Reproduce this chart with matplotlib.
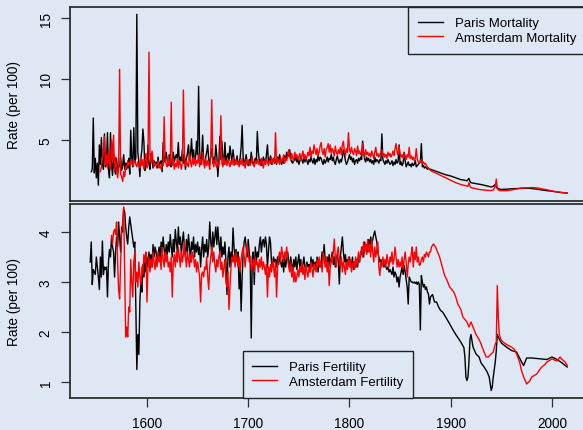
import numpy as np
import matplotlib
matplotlib.use("Agg")
import matplotlib.pyplot as plt

BG = "#dde8f4"
plt.rcParams['font.family'] = ['Liberation Sans', 'DejaVu Sans']

# ---------------- Paris mortality ----------------
paris_mort_start = 1545
paris_mort_annual = [
    2.4, 2.6, 6.8, 2.3, 3.5,
    1.9, 3.1, 1.3, 4.6, 3.0, 5.2, 3.3, 2.6, 5.5, 2.8,
    3.1, 5.6, 2.6, 1.9, 5.6, 3.0, 2.1, 3.8, 2.6, 2.2,
    3.5, 2.4, 3.0, 2.8, 3.6, 2.5, 2.9, 3.8, 2.6, 3.1,
    3.0, 2.7, 3.5, 2.2, 5.8, 3.4, 2.8, 6.0, 3.2, 3.5,
    15.3, 4.0, 3.2, 2.0, 3.5, 4.2, 5.9, 4.8, 2.5, 3.3,
    2.8, 4.6, 3.0, 2.6, 3.9, 3.4, 2.7, 3.3, 3.0, 3.2,
    2.7, 3.6, 2.9, 3.1, 3.3, 2.4, 4.8, 3.2, 3.5, 4.0,
    3.3, 2.9, 3.8, 3.0, 2.8, 3.5, 4.0, 3.2, 3.6, 3.8,
    3.5, 4.8, 3.0, 3.6, 3.3, 4.2, 3.1, 3.8, 2.6, 3.5,
    3.9, 4.6, 3.3, 3.8, 5.1, 3.5, 4.2, 3.2, 3.6, 4.9,
    3.8, 9.4, 4.1, 3.0, 3.6, 5.4, 3.2, 2.9, 3.6, 4.0,
    4.6, 3.4, 3.0, 3.8, 4.3, 3.1, 3.6, 3.3, 4.6, 3.7,
    2.0, 3.2, 5.3, 3.4, 4.9, 3.5, 3.0, 4.8, 3.2, 3.6,
    3.9, 3.3, 4.5, 3.8, 3.1, 4.2, 3.4, 3.0, 3.2, 3.7,
    3.0, 3.1, 3.5, 4.4, 6.2, 3.6, 3.0, 3.3, 3.8, 3.1,
    2.9, 3.4, 3.1, 4.0, 3.3, 3.0, 3.2, 3.5, 3.1, 5.7,
    4.0, 3.2, 3.4, 2.9, 3.1, 3.6, 3.3, 3.0, 3.8, 4.6,
    3.1, 3.3, 3.7, 3.0, 3.2, 3.5, 3.1, 3.4, 3.0, 3.6,
    3.2, 3.8, 3.3, 3.0, 3.4, 3.1, 3.7, 3.3, 4.0, 3.6,
    3.9, 4.2, 3.4, 3.2, 3.1, 3.5, 3.3, 3.8, 3.2, 3.4,
    3.0, 3.3, 3.7, 3.4, 3.1, 3.5, 3.2, 3.6, 3.3, 3.0,
    3.4, 3.2, 3.6, 3.3, 3.1, 3.5, 3.0, 3.4, 3.2, 3.7,
    3.3, 3.6, 3.5, 3.2, 3.0, 3.4, 3.1, 3.3, 3.6, 3.2,
    3.5, 3.4, 3.8, 3.3, 3.6, 3.2, 3.0, 3.4, 3.7, 3.3,
    3.1, 3.4, 3.2, 3.6, 4.2, 3.8, 3.3, 3.0, 3.2, 3.5,
    3.8, 3.4, 3.6, 3.2, 3.5, 3.0, 3.3, 3.4, 3.1, 3.5,
    3.3, 3.6, 3.4, 4.9, 4.0, 3.4, 3.2, 3.6, 3.3, 3.5,
    3.2, 3.4, 3.1, 3.3, 3.0, 3.6, 3.2, 3.4, 3.3, 3.1,
    3.4, 3.3, 5.5, 3.4, 3.2, 3.0, 3.3, 3.1, 3.4, 3.2,
    3.0, 3.1, 3.3, 2.9, 3.2, 3.0, 3.4, 3.1, 3.2, 4.6,
    3.0, 3.2, 2.9, 3.1, 4.0, 3.3, 2.8, 3.0, 3.2, 2.9,
    3.0, 2.8, 3.1, 2.9, 3.0, 3.3, 2.8, 2.9, 3.0, 3.1,
    3.2, 4.7, 2.8, 2.9, 2.7, 2.8, 2.7, 2.6, 2.7, 2.6,
]
paris_mort_late_years = [1880, 1885, 1890, 1895, 1900, 1905, 1910, 1914, 1916, 1918,
                         1919, 1920, 1925, 1930, 1935, 1940, 1942, 1944, 1945, 1947,
                         1950, 1955, 1960, 1965, 1970, 1975, 1980, 1985, 1990, 1995,
                         2000, 2005, 2010, 2015]
paris_mort_late = [2.6, 2.45, 2.3, 2.15, 2.05, 1.9, 1.75, 1.7, 1.65, 1.85,
                   1.6, 1.5, 1.42, 1.35, 1.25, 1.15, 1.2, 1.35, 1.15, 1.0,
                   0.95, 0.97, 1.0, 1.02, 1.05, 1.05, 1.02, 0.97, 0.9, 0.85,
                   0.8, 0.74, 0.68, 0.65]

# ---------------- Amsterdam mortality ----------------
ams_mort_start = 1554
ams_mort_annual = [
    2.4, 2.8, 3.5, 4.0, 5.3, 3.0,
    3.8, 2.7, 4.2, 3.1, 2.6, 5.0, 3.3, 5.4, 2.5, 3.6,
    2.8, 1.9, 2.6, 10.8, 2.2, 2.0, 1.6, 2.4, 2.0, 2.8,
    2.6, 3.3, 2.9, 3.2, 3.0, 3.4, 2.9, 3.1, 3.3, 3.0,
    2.8, 3.2, 3.0, 2.7, 3.6, 2.9, 3.4, 2.6, 3.3, 3.9,
    2.7, 3.2, 12.2, 3.8, 3.1, 4.1, 3.4, 2.8, 3.1, 2.9,
    3.0, 3.3, 2.7, 2.9, 2.6, 3.1, 2.9, 6.9, 3.3, 3.0,
    2.8, 3.6, 2.9, 3.2, 8.1, 2.9, 3.4, 2.6, 3.1, 2.8,
    3.5, 2.7, 3.3, 3.0, 2.6, 3.2, 9.1, 3.6, 2.9, 3.3,
    3.0, 2.8, 3.9, 3.2, 2.8, 3.5, 3.0, 3.6, 2.9, 3.3,
    3.1, 3.9, 2.8, 3.4, 3.0, 4.0, 3.2, 2.7, 3.5, 2.9,
    3.3, 3.0, 2.6, 3.8, 8.3, 3.2, 2.8, 3.4, 3.0, 2.7,
    3.2, 2.9, 3.5, 7.0, 3.1, 2.8, 3.6, 3.0, 3.3, 2.9,
    3.4, 3.1, 2.8, 3.3, 3.0, 3.6, 2.9, 3.2, 3.4, 3.0,
    3.2, 2.8, 3.3, 3.0, 3.5, 2.9, 3.1, 2.7, 3.4, 3.0,
    3.3, 3.1, 2.9, 3.2, 3.6, 3.0, 2.8, 3.3, 3.1, 3.4,
    3.0, 3.2, 2.9, 3.5, 3.1, 2.7, 3.3, 3.0, 3.4, 3.2,
    2.9, 3.3, 3.1, 3.6, 3.0, 3.4, 3.2, 5.6, 3.1, 3.5,
    3.3, 3.0, 3.6, 3.2, 3.4, 3.8, 3.1, 3.5, 3.3, 3.7,
    4.2, 3.6, 3.4, 3.9, 3.5, 3.3, 4.0, 3.6, 3.8, 3.4,
    3.6, 3.9, 3.3, 3.7, 4.1, 3.5, 3.8, 3.4, 3.6, 4.0,
    3.7, 4.4, 3.6, 4.1, 3.9, 4.6, 4.2, 3.8, 4.3, 3.7,
    4.0, 4.5, 4.8, 4.1, 3.8, 4.3, 3.6, 4.2, 4.4, 4.7,
    4.0, 4.6, 3.9, 4.3, 4.1, 3.7, 4.5, 4.0, 3.8, 4.2,
    3.9, 4.4, 3.8, 4.6, 4.9, 4.1, 3.7, 4.3, 4.0, 5.6,
    4.2, 3.9, 4.4, 4.0, 3.8, 4.3, 4.1, 3.7, 4.5, 3.9,
    4.1, 3.8, 4.0, 4.7, 3.9, 3.6, 4.2, 3.8, 4.0, 3.7,
    3.9, 3.6, 4.1, 3.8, 3.5, 4.0, 4.4, 3.7, 3.9, 3.6,
    3.8, 4.0, 4.2, 3.7, 3.9, 3.6, 3.8, 3.5, 4.0, 3.7,
    3.9, 3.6, 3.8, 4.1, 3.7, 4.3, 4.7, 4.0, 3.8, 4.5,
    3.9, 3.6, 3.8, 3.5, 3.9, 3.7, 3.4, 3.8, 3.6, 4.4,
    3.5, 3.7, 3.4, 3.6, 3.3, 3.5, 4.3, 3.4, 3.2, 3.1,
    3.3, 3.4, 3.1, 3.2, 3.0, 3.1, 2.9, 2.8, 2.7, 2.6,
]
ams_mort_late_years = [1880, 1885, 1890, 1895, 1900, 1905, 1910, 1915, 1917, 1918,
                       1919, 1920, 1925, 1930, 1935, 1940, 1942, 1944, 1945, 1946,
                       1948, 1950, 1955, 1960, 1965, 1970, 1975, 1980, 1985, 1990,
                       1995, 2000, 2005, 2010, 2015]
ams_mort_late = [2.5, 2.3, 2.1, 1.9, 1.7, 1.5, 1.35, 1.25, 1.2, 1.5,
                 1.2, 1.1, 1.0, 0.92, 0.88, 0.85, 0.9, 1.2, 1.8, 1.0,
                 0.85, 0.85, 0.85, 0.9, 0.98, 1.05, 1.08, 1.1, 1.08, 1.0,
                 0.92, 0.82, 0.75, 0.7, 0.65]

# ---------------- Paris fertility ----------------
paris_fert_start = 1544
paris_fert_annual = [
    3.4, 3.8, 2.95, 3.25, 3.2, 3.15,
    3.5, 3.3, 3.1, 2.85, 3.5, 3.1, 3.82, 3.15, 3.3, 3.25,
    3.3, 2.7, 3.4, 3.65, 3.5, 3.9, 3.7, 3.6, 3.1, 3.6,
    3.9, 3.7, 4.2, 3.9, 3.6, 4.1, 4.0, 4.45, 4.4, 4.1,
    3.9, 3.76, 4.1, 4.3, 4.15, 4.0, 3.85, 3.7, 3.8, 2.5,
    1.25, 1.95, 1.55, 2.6, 3.0, 2.8, 3.35, 3.1, 3.4, 3.2,
    3.5, 3.3, 3.6, 3.4, 3.55, 3.3, 3.75, 3.5, 3.7, 3.6,
    3.4, 3.55, 3.7, 3.45, 3.8, 3.6, 3.9, 3.65, 3.5, 3.75,
    3.55, 3.8, 3.6, 3.95, 3.7, 3.5, 3.85, 3.6, 4.05, 3.8,
    3.6, 4.1, 3.75, 3.9, 3.55, 3.8, 4.0, 3.7, 3.5, 3.85,
    3.6, 3.95, 3.7, 3.4, 3.8, 3.65, 3.9, 3.5, 3.75, 3.6,
    3.8, 3.55, 3.7, 3.3, 3.65, 3.9, 3.5, 3.75, 3.6, 3.85,
    3.5, 3.7, 4.2, 3.8, 3.6, 4.0, 3.7, 3.9, 4.1, 3.75,
    4.1, 3.8, 3.6, 3.9, 3.5, 3.7, 3.55, 3.8, 3.4, 2.75,
    3.5, 3.7, 3.3, 3.6, 3.45, 4.08, 3.7, 3.5, 3.65, 3.4,
    3.6, 2.86, 3.3, 2.42, 3.1, 3.55, 3.8, 3.9, 3.7, 3.5,
    3.85, 3.6, 3.4, 1.88, 3.5, 3.6, 2.95, 3.7, 3.4, 3.6,
    3.5, 3.75, 3.9, 3.6, 3.8, 3.85, 3.7, 3.9, 3.75, 3.3,
    3.6, 3.9, 3.8, 3.4, 3.3, 3.5, 3.4, 3.45, 3.3, 3.5,
    3.35, 3.5, 3.4, 3.3, 3.45, 3.2, 3.5, 3.3, 3.45, 3.6,
    3.4, 3.3, 3.5, 3.35, 3.2, 3.45, 3.3, 3.5, 3.25, 3.4,
    3.55, 3.3, 3.45, 3.2, 3.35, 3.5, 3.3, 3.25, 3.4, 3.3,
    3.35, 3.2, 3.5, 3.3, 3.45, 3.25, 3.4, 3.3, 3.5, 3.2,
    3.45, 3.3, 3.4, 3.6, 3.5, 3.75, 3.45, 3.3, 3.5, 3.4,
    3.55, 3.3, 3.45, 3.6, 3.35, 3.5, 3.3, 3.45, 3.55, 3.4,
    2.96, 3.5, 3.7, 3.9, 3.6, 3.4, 3.55, 3.3, 3.45, 3.4,
    3.5, 3.3, 3.35, 3.5, 3.25, 3.4, 3.3, 3.45, 3.3, 3.5,
    3.4, 3.6, 3.55, 3.7, 3.5, 3.8, 3.65, 3.75, 3.6, 3.85,
    3.7, 3.9, 3.75, 3.85, 3.95, 4.02, 3.9, 3.8, 3.6, 3.5,
    3.4, 3.45, 3.35, 3.4, 3.3, 3.35, 3.3, 3.25, 3.3, 3.2,
    3.25, 3.2, 3.15, 3.3, 3.1, 3.2, 3.15, 3.0, 3.1, 2.9,
    3.1, 3.2, 3.3, 3.15, 3.33, 3.2, 3.05, 2.9, 2.56, 3.1,
    3.05, 3.0, 3.0, 2.98, 3.0, 2.97, 3.0, 2.95, 3.0, 2.95,
    2.04, 3.13, 3.0, 2.9, 2.95, 2.85, 2.9, 2.8, 2.76, 2.56,
]
paris_fert_late_years = [1880, 1882, 1884, 1886, 1888, 1890, 1892, 1895, 1899, 1902,
                         1905, 1909, 1913, 1914, 1915, 1916, 1917, 1918, 1919, 1920,
                         1922, 1925, 1928, 1930, 1933, 1936, 1938, 1940, 1941, 1942,
                         1944, 1945, 1946, 1947, 1950, 1955, 1960, 1965, 1970, 1972,
                         1975, 1980, 1985, 1990, 1995, 2000, 2005, 2010, 2015]
paris_fert_late = [2.7, 2.75, 2.6, 2.6, 2.5, 2.43, 2.4, 2.3, 2.16, 2.05,
                   1.95, 1.83, 1.69, 1.5, 1.1, 1.03, 1.1, 1.4, 1.85, 1.95,
                   1.7, 1.56, 1.5, 1.38, 1.3, 1.2, 1.1, 0.83, 0.9, 1.1,
                   1.4, 1.63, 1.95, 1.9, 1.78, 1.7, 1.63, 1.6, 1.4, 1.33,
                   1.48, 1.48, 1.47, 1.46, 1.45, 1.5, 1.45, 1.38, 1.3]

# ---------------- Amsterdam fertility ----------------
ams_fert_start = 1565
ams_fert_annual = [
    3.93, 3.75, 4.0, 4.05, 3.95,
    4.2, 3.4, 2.85, 2.66, 3.4, 4.0, 4.2, 4.5, 3.2, 1.9,
    2.1, 1.9, 2.5, 2.4, 3.45, 3.0, 2.7, 3.4, 3.6, 3.0,
    3.2, 2.9, 3.4, 3.1, 2.95, 3.3, 3.15, 3.55, 3.4, 3.6,
    2.6, 3.3, 3.5, 3.2, 3.45, 3.3, 3.6, 3.4, 3.25, 3.5,
    3.3, 3.6, 3.4, 3.5, 3.25, 3.7, 3.45, 3.3, 3.6, 3.4,
    3.55, 3.3, 3.4, 3.2, 3.5, 2.7, 3.4, 3.55, 3.3, 3.6,
    3.4, 3.7, 3.5, 3.3, 3.6, 3.4, 3.55, 3.8, 3.5, 3.3,
    3.6, 3.45, 3.3, 3.55, 3.4, 3.6, 3.5, 3.3, 3.45, 3.2,
    3.4, 3.25, 3.1, 2.6, 3.15, 3.2, 3.1, 3.3, 3.25, 3.5,
    3.1, 2.85, 3.3, 3.5, 3.7, 3.4, 3.6, 3.35, 3.2, 3.45,
    3.3, 3.5, 3.6, 3.25, 3.4, 3.1, 3.3, 3.45, 3.0, 2.9,
    3.2, 2.45, 2.9, 3.3, 3.5, 3.4, 3.55, 3.3, 3.6, 3.45,
    3.3, 3.5, 3.2, 3.45, 3.6, 3.7, 3.5, 3.3, 3.55, 3.75,
    3.6, 3.4, 3.5, 3.25, 3.3, 3.45, 3.2, 3.5, 3.35, 3.4,
    3.2, 3.45, 3.3, 3.5, 3.25, 3.4, 3.3, 3.15, 3.35, 2.7,
    3.3, 3.1, 3.35, 3.2, 3.45, 3.3, 3.1, 3.4, 2.7, 3.3,
    3.5, 3.6, 3.4, 3.7, 3.55, 3.4, 3.6, 3.5, 3.7, 3.45,
    3.3, 3.2, 3.4, 3.1, 3.3, 3.0, 3.2, 3.0, 3.1, 3.25,
    3.1, 3.3, 3.2, 3.4, 3.15, 3.3, 3.05, 3.35, 3.2, 3.1,
    3.3, 3.2, 3.4, 3.25, 3.1, 3.35, 3.3, 3.2, 3.45, 3.3,
    3.5, 3.3, 3.4, 3.2, 3.6, 3.45, 3.3, 3.5, 3.2, 3.4,
    2.93, 3.3, 3.5, 3.4, 3.6, 3.86, 3.5, 3.3, 3.6, 3.7,
    3.45, 3.3, 3.5, 3.2, 3.4, 3.3, 3.15, 3.4, 3.25, 3.5,
    3.3, 3.45, 3.2, 3.35, 3.4, 3.25, 3.5, 3.3, 3.45, 3.6,
    3.4, 3.55, 3.7, 3.5, 3.8, 3.6, 3.75, 3.55, 3.85, 3.6,
    3.75, 3.5, 3.85, 3.6, 3.4, 3.7, 3.5, 3.65, 3.8, 3.3,
    3.13, 3.4, 3.3, 3.5, 3.35, 3.45, 3.3, 3.55, 3.4, 3.3,
    3.5, 3.4, 3.6, 3.35, 3.45, 3.7, 3.5, 3.3, 3.45, 3.3,
    3.4, 3.3, 3.5, 3.25, 3.45, 3.6, 3.4, 3.1, 3.35, 3.5,
    3.4, 3.56, 3.7, 3.3, 3.6, 3.45, 3.7, 3.4, 3.5, 3.33,
    3.35, 3.45, 3.5, 3.4, 3.55, 3.5, 3.6, 3.56, 3.5, 3.6,
]
ams_fert_late_years = [1880, 1881, 1883, 1885, 1887, 1889, 1891, 1894, 1896, 1899,
                       1901, 1903, 1905, 1907, 1910, 1912, 1914, 1916, 1918, 1920,
                       1922, 1925, 1928, 1930, 1932, 1935, 1937, 1940, 1942, 1944,
                       1945, 1946, 1947, 1948, 1950, 1955, 1960, 1963, 1965, 1968,
                       1970, 1972, 1975, 1978, 1980, 1985, 1988, 1990, 1993, 1995,
                       2000, 2005, 2008, 2010, 2013, 2015]
ams_fert_late = [3.6, 3.7, 3.76, 3.7, 3.6, 3.5, 3.35, 3.13, 3.05, 2.9,
                 2.85, 2.8, 2.7, 2.56, 2.45, 2.3, 2.25, 2.2, 2.1, 2.2,
                 2.1, 1.95, 1.85, 1.76, 1.65, 1.5, 1.5, 1.56, 1.6, 1.76,
                 1.8, 2.93, 2.3, 1.95, 1.83, 1.75, 1.7, 1.65, 1.56, 1.4,
                 1.22, 1.1, 0.96, 1.02, 1.1, 1.16, 1.25, 1.3, 1.35, 1.4,
                 1.46, 1.42, 1.5, 1.45, 1.4, 1.33]

x_ticks = [1600, 1700, 1800, 1900, 2000]
mort_ticks = [5, 10, 15]
fert_ticks = [1, 2, 3, 4]


def series(start, annual, late_years, late_vals):
    yrs = list(range(start, start + len(annual))) + list(late_years)
    vals = list(annual) + list(late_vals)
    assert len(late_years) == len(late_vals)
    return np.array(yrs), np.array(vals)


pm_x, pm_y = series(paris_mort_start, paris_mort_annual, paris_mort_late_years, paris_mort_late)
am_x, am_y = series(ams_mort_start, ams_mort_annual, ams_mort_late_years, ams_mort_late)
pf_x, pf_y = series(paris_fert_start, paris_fert_annual, paris_fert_late_years, paris_fert_late)
af_x, af_y = series(ams_fert_start, ams_fert_annual, ams_fert_late_years, ams_fert_late)
for xs in (pm_x, am_x, pf_x, af_x):
    assert np.all(np.diff(xs) > 0), xs

W, H = 583, 431
fig = plt.figure(figsize=(W / 100, H / 100), dpi=100, facecolor=BG)
ax1 = fig.add_axes([70 / W, 1 - 202 / H, 516 / W, 194 / H])
ax2 = fig.add_axes([70 / W, 1 - 399 / H, 516 / W, 194 / H])

FS = 9.8
SPINE = '#2e2e2e'
for ax in (ax1, ax2):
    ax.set_facecolor(BG)
    for sp in ax.spines.values():
        sp.set_color(SPINE)
        sp.set_linewidth(1.3)
    ax.set_xlim(1524, 2033.6)
    ax.tick_params(axis='y', length=6.5, width=0.9, pad=6, labelsize=FS, labelrotation=90, color=SPINE)
    ax.set_ylabel('Rate (per 100)', fontsize=FS)
    ax.yaxis.set_label_coords((21 - 70) / 516, 0.5)

ax1.plot(pm_x, pm_y, color='black', lw=1.0, label='Paris Mortality')
ax1.plot(am_x, am_y, color='#ff0000', lw=1.0, label='Amsterdam Mortality')
ax1.set_ylim(0.0, 15.9)
ax1.set_yticks(mort_ticks)
ax1.tick_params(axis='x', bottom=False, labelbottom=False)

ax2.plot(pf_x, pf_y, color='black', lw=1.0, label='Paris Fertility')
ax2.plot(af_x, af_y, color='#ff0000', lw=1.0, label='Amsterdam Fertility')
ax2.set_ylim(0.68, 4.56)
ax2.set_yticks(fert_ticks)
ax2.set_xticks(x_ticks)
ax2.tick_params(axis='x', length=6.5, width=0.9, pad=6.5, labelsize=FS, color=SPINE)

for ax in (ax1, ax2):
    for lab in ax.get_yticklabels():
        lab.set_va('center')

leg_kw = dict(fontsize=9.5, frameon=True, fancybox=False, borderaxespad=0,
              handlelength=1.9, handletextpad=0.9, labelspacing=0.2, borderpad=0.75)
l1 = ax1.legend(loc='upper right', bbox_to_anchor=(1, 1), **leg_kw)
l2 = ax2.legend(loc='lower center', bbox_to_anchor=(0.5, 0), **leg_kw)
for lg in (l1, l2):
    fr = lg.get_frame()
    fr.set_edgecolor('#222222')
    fr.set_facecolor(BG)
    fr.set_alpha(1)
    fr.set_linewidth(1.0)

fig.savefig('out.png', dpi=100, facecolor=BG)
